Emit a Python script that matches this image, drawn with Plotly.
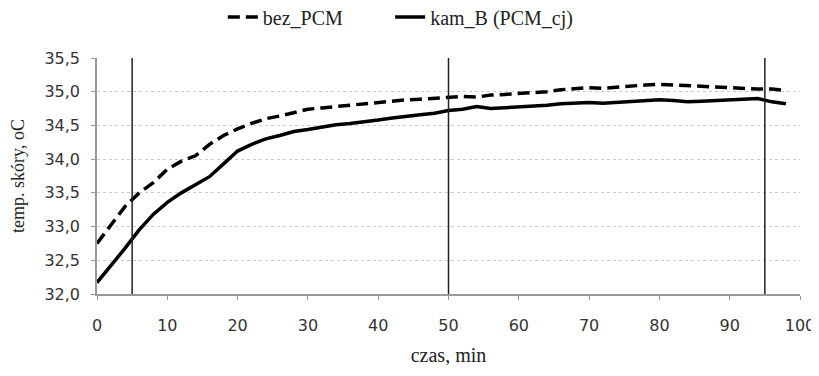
import plotly.graph_objects as go

czas = list(range(0, 100, 2))
bez_pcm = [32.75, 33.02, 33.30, 33.50, 33.65, 33.85, 33.97, 34.05, 34.22, 34.35,
           34.45, 34.53, 34.60, 34.64, 34.69, 34.74, 34.76, 34.78, 34.81, 34.83,
           34.85, 34.86, 34.88, 34.89, 34.90, 34.92, 34.93, 34.92, 34.95, 34.96,
           34.97, 34.99, 35.00, 35.03, 35.04, 35.06, 35.05, 35.07, 35.08, 35.10,
           35.11, 35.10, 35.08, 35.08, 35.07, 35.06, 35.05, 35.04, 35.04, 35.02]
kam_b = [32.17, 32.42, 32.68, 32.95, 33.18, 33.36, 33.50, 33.62, 33.74, 33.93,
         34.12, 34.22, 34.30, 34.35, 34.41, 34.44, 34.48, 34.51, 34.53, 34.55,
         34.58, 34.61, 34.64, 34.66, 34.68, 34.72, 34.74, 34.78, 34.75, 34.76,
         34.77, 34.78, 34.80, 34.82, 34.83, 34.84, 34.83, 34.84, 34.85, 34.87,
         34.88, 34.87, 34.85, 34.86, 34.87, 34.89, 34.90, 34.90, 34.85, 34.82]
markers = [5, 50, 95]
y_range = [32.0, 35.5]
x_ticks = list(range(0, 101, 10))
y_ticks = [32.0, 32.5, 33.0, 33.5, 34.0, 34.5, 35.0, 35.5]

serif = "Liberation Serif"
sans = "DejaVu Sans"

fig = go.Figure()
fig.add_trace(go.Scatter(x=czas, y=bez_pcm, mode="lines", name="bez_PCM",
                         legend="legend",
                         line=dict(color="black", width=3.5, dash="12px,6px")))
fig.add_trace(go.Scatter(x=czas, y=kam_b, mode="lines", name="kam_B (PCM_cj)",
                         legend="legend2",
                         line=dict(color="black", width=3.5)))

for m in markers:
    fig.add_shape(type="line", xref="x", yref="y", x0=m, x1=m,
                  y0=y_range[0], y1=y_range[1],
                  line=dict(color="#222", width=1.5), layer="above")

legend_style = dict(orientation="h", xanchor="left", y=1.174, yanchor="middle",
                    font=dict(family=serif, size=20, color="#222"),
                    bgcolor="rgba(0,0,0,0)")

fig.update_layout(
    width=811, height=368,
    margin=dict(l=89, r=19, t=50, b=82, autoexpand=False),
    paper_bgcolor="white", plot_bgcolor="white",
    separators=", ",
    font=dict(family=serif, size=18, color="#333"),
    showlegend=True,
    legend=dict(x=0.179, **legend_style),
    legend2=dict(x=0.417, **legend_style),
    xaxis=dict(range=[0, 100], tickvals=x_ticks, showgrid=False,
               showline=True, linecolor="#999", linewidth=1.5,
               ticks="outside", ticklen=4, tickcolor="#999",
               tickfont=dict(family=sans, size=16, color="#333"),
               ticklabelstandoff=12,
               title=dict(text="czas, min", font=dict(family=serif, size=20, color="#222"),
                          standoff=14),
               zeroline=False),
    yaxis=dict(range=y_range, tickvals=y_ticks, tickformat=".1f",
               showgrid=True, gridcolor="#cccccc", griddash="dot", gridwidth=1,
               showline=True, linecolor="#999", linewidth=1.5,
               ticks="outside", ticklen=4, tickcolor="#999",
               tickfont=dict(family=sans, size=16, color="#333"),
               ticklabelstandoff=8,
               title=dict(text="temp. skóry, oC", font=dict(family=serif, size=18, color="#222"),
                          standoff=15),
               zeroline=False),
)

fig.write_html("out.html")
